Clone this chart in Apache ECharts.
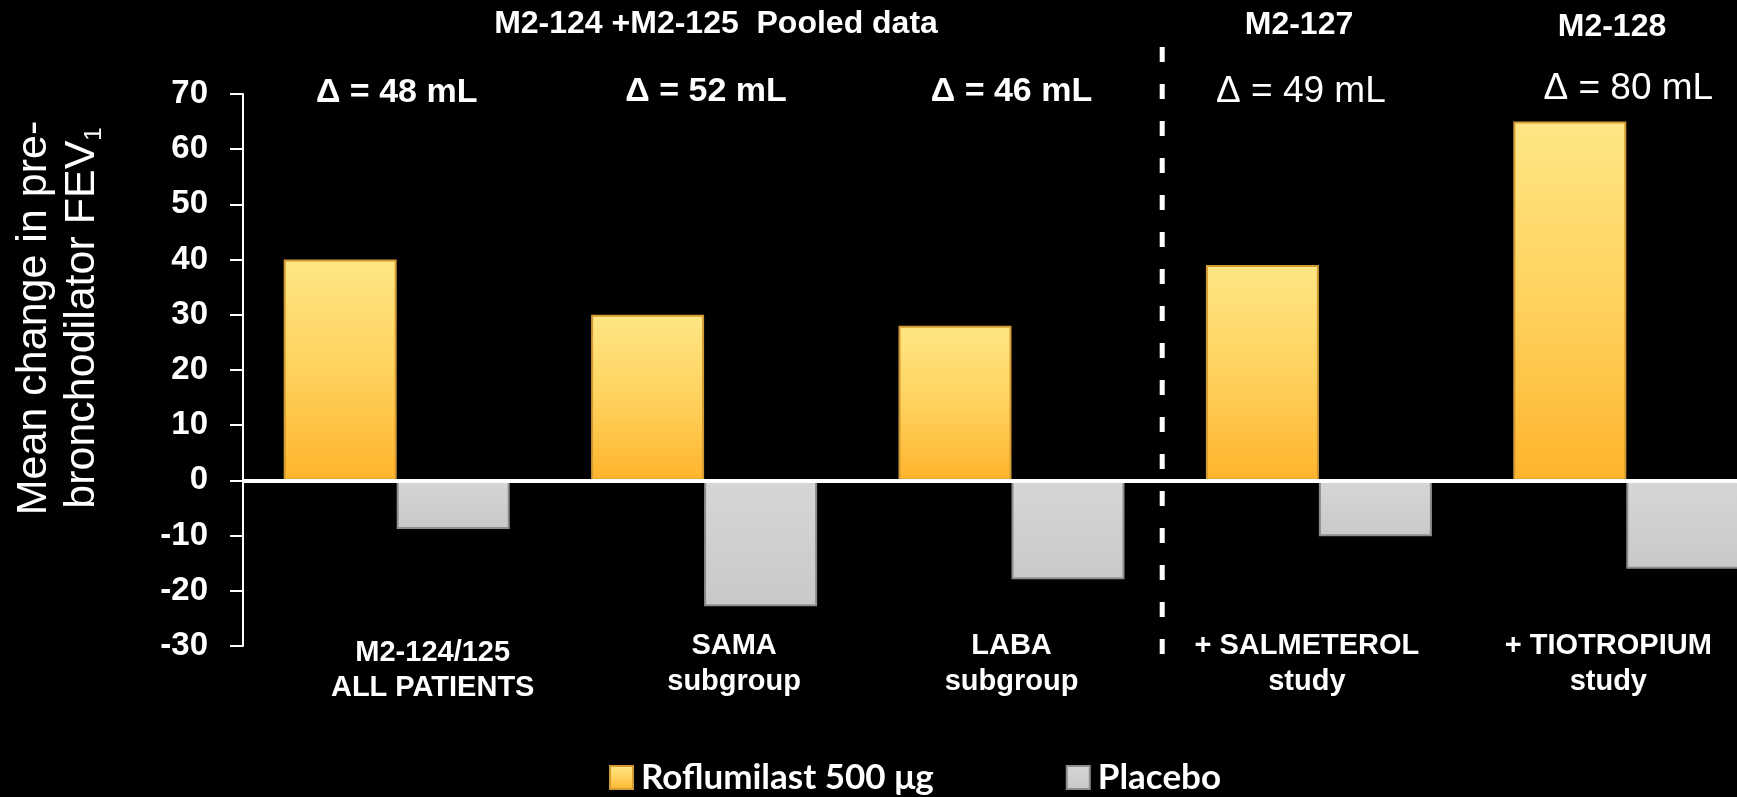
<!DOCTYPE html>
<html>
<head>
<meta charset="utf-8">
<script src="https://cdn.jsdelivr.net/npm/echarts@6/dist/echarts.min.js"></script>
<style>
  html, body { margin: 0; padding: 0; background: #000; }
  #chart { width: 1737px; height: 797px; }
</style>
</head>
<body>
<div id="chart"></div>
<script>
// ---- data ----
const categories = [
  'M2-124/125\nALL PATIENTS',
  'SAMA\nsubgroup',
  'LABA\nsubgroup',
  '+ SALMETEROL\nstudy',
  '+ TIOTROPIUM\nstudy'
];
const seriesNames = ['Roflumilast 500 μg', 'Placebo'];
const roflumilast = [40, 30, 28, 39, 65];
const placebo = [-8.8, -22.8, -17.9, -10.1, -16.0];
const deltaLabels = ['Δ = 48 mL', 'Δ = 52 mL', 'Δ = 46 mL', 'Δ = 49 mL', 'Δ = 80 mL'];
const studyHeaders = ['M2-124 +M2-125  Pooled data', 'M2-127', 'M2-128'];
const yTitleLines = ['Mean change in pre-', 'bronchodilator FEV'];
const yTitleSub = '1';
const yMin = -30, yMax = 70, yStep = 10;

// ---- styling ----
const SANS = '"Liberation Sans", Arial, Helvetica, sans-serif';
const labelShift = [36, 30, 0, -12, -18];          // horizontal nudge of category labels
const deltaShift = [0, 2, 0, -18, 2];
const deltaY = [93, 92, 92, 92, 89];
const deltaWeight = ['bold', 'bold', 'bold', 'normal', 'normal'];
const deltaSize = [34, 34, 34, 37, 37];

const chart = echarts.init(document.getElementById('chart'), null, { renderer: 'canvas' });

// rich styles for the two-line category labels
const rich = {};
categories.forEach((c, i) => {
  const s = labelShift[i];
  const pad = s >= 0 ? [0, 0, 0, 2 * s] : [0, -2 * s, 0, 0];
  const base = { color: '#fff', fontFamily: SANS, fontWeight: 'bold', fontSize: 29, padding: pad };
  rich['a' + i] = Object.assign({}, base, { lineHeight: i === 0 ? 50 : 36 });
  rich['b' + i] = Object.assign({}, base, { lineHeight: i === 0 ? 20 : 36 });
});

const roflGradient = new echarts.graphic.LinearGradient(0, 0, 0, 1, [
  { offset: 0, color: '#FFE684' },
  { offset: 0.5, color: '#FFD25E' },
  { offset: 1, color: '#FFB42C' }
]);
const placeboGradient = new echarts.graphic.LinearGradient(0, 0, 0, 1, [
  { offset: 0, color: '#D6D6D6' },
  { offset: 1, color: '#C9C9C9' }
]);

chart.setOption({
  backgroundColor: '#000',
  animation: false,
  grid: { left: 243, top: 94, width: 1537, height: 552, outerBoundsMode: 'none', containLabel: false },
  legend: {
    data: seriesNames,
    left: 609,
    top: 760,
    padding: 0,
    icon: 'rect',
    itemWidth: 23,
    itemHeight: 23,
    itemGap: 132,
    selectedMode: false,
    textStyle: { color: '#fff', fontFamily: 'Lato, "Open Sans", sans-serif', fontWeight: 700, fontSize: 35, padding: [0, 0, 0, 3] }
  },
  xAxis: {
    type: 'category',
    data: categories,
    axisLine: { show: false },
    axisTick: { show: false },
    splitLine: { show: false },
    axisLabel: {
      interval: 0,
      margin: -18,
      formatter: (v, i) => {
        const parts = v.split('\n');
        return '{a' + i + '|' + parts[0] + '}\n{b' + i + '|' + parts[1] + '}';
      },
      rich: rich
    }
  },
  yAxis: {
    type: 'value',
    min: yMin,
    max: yMax,
    interval: yStep,
    axisLine: { show: true, lineStyle: { color: '#fff', width: 2 } },
    axisTick: { show: true, length: 13, lineStyle: { color: '#fff', width: 2 } },
    splitLine: { show: false },
    axisLabel: { color: '#fff', fontFamily: SANS, fontWeight: 'bold', fontSize: 33, margin: 35 }
  },
  series: [
    {
      name: seriesNames[0],
      type: 'bar',
      data: roflumilast,
      barWidth: 113,
      barGap: '0%',
      itemStyle: { color: roflGradient, borderColor: '#D39B33', borderWidth: 2 },
      emphasis: { disabled: true },
      markLine: {
        silent: true,
        symbol: ['none', 'none'],
        label: { show: false },
        lineStyle: { color: '#fff', type: 'solid', width: 4 },
        data: [{ yAxis: 0 }],
        z: 10
      }
    },
    {
      name: seriesNames[1],
      type: 'bar',
      data: placebo,
      barWidth: 113,
      barGap: '0%',
      itemStyle: { color: placeboGradient, borderColor: '#8E8E8E', borderWidth: 2 },
      emphasis: { disabled: true }
    }
  ]
});

// ---- annotations placed from the axis scale ----
const xPix = i => chart.convertToPixel({ xAxisIndex: 0 }, i);
const graphics = [];

// study-group headings
const headerPos = [[716, 24], [1299, 25], [1612, 27.5]];
studyHeaders.forEach((t, i) => {
  graphics.push({
    type: 'text', x: headerPos[i][0], y: headerPos[i][1], silent: true,
    style: { text: t, fill: '#fff', font: 'bold 32px ' + SANS, align: 'center', verticalAlign: 'middle', textAlign: 'center', textVerticalAlign: 'middle' }
  });
});

// treatment difference above each category
deltaLabels.forEach((t, i) => {
  graphics.push({
    type: 'text', x: xPix(i) + deltaShift[i], y: deltaY[i], silent: true,
    style: { text: t, fill: '#fff', font: deltaWeight[i] + ' ' + deltaSize[i] + 'px ' + SANS, align: 'center', verticalAlign: 'middle', textAlign: 'center', textVerticalAlign: 'middle' }
  });
});

// dashed divider between pooled data and the separate studies
const divX = (xPix(2) + xPix(3)) / 2 - 3;
graphics.push({
  type: 'line', silent: true,
  shape: { x1: divX, y1: 47, x2: divX, y2: 654 },
  style: { stroke: '#fff', lineWidth: 5, lineDash: [15, 22] }
});

// rotated y-axis title with subscript
graphics.push({
  type: 'text', x: 58, y: 318, rotation: Math.PI / 2, silent: true,
  style: {
    text: '{t|' + yTitleLines[0] + '}\n{t|' + yTitleLines[1] + '}{s|' + yTitleSub + '}',
    align: 'center', verticalAlign: 'middle', textAlign: 'center', textVerticalAlign: 'middle',
    rich: {
      t: { fill: '#fff', color: '#fff', fontFamily: SANS, fontSize: 43, lineHeight: 48 },
      s: { fill: '#fff', color: '#fff', fontFamily: SANS, fontSize: 24, lineHeight: 8, verticalAlign: 'bottom' }
    }
  }
});

chart.setOption({ graphic: graphics });
</script>
</body>
</html>
